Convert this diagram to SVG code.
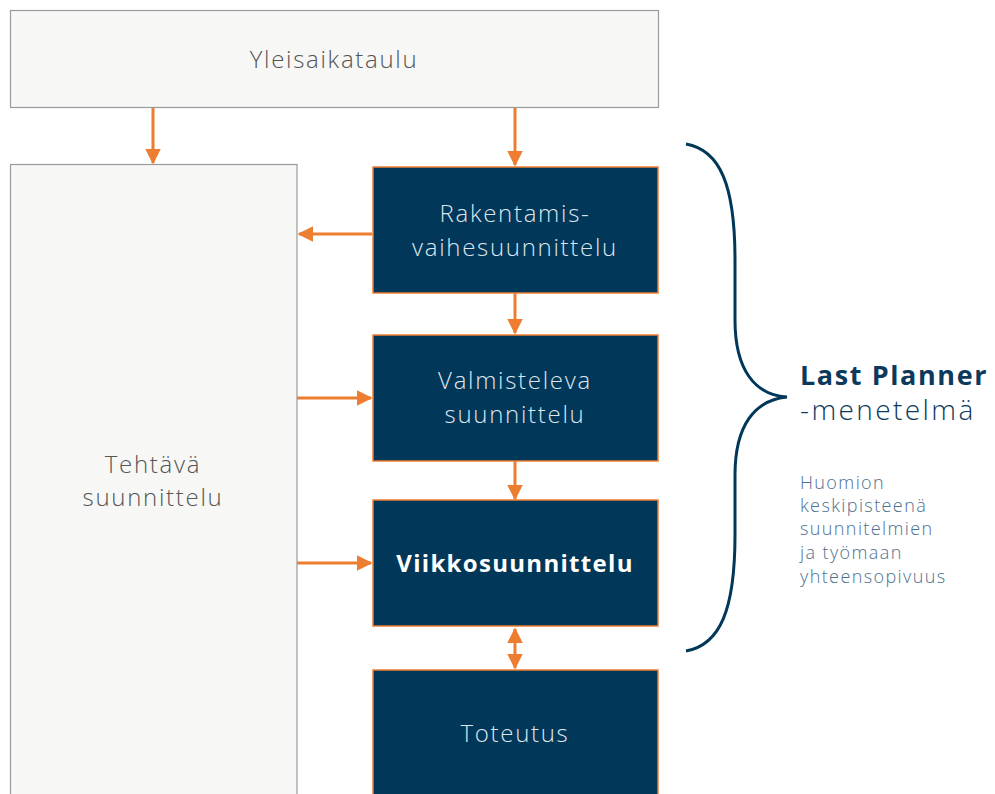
<svg xmlns="http://www.w3.org/2000/svg" width="995" height="794" viewBox="0 0 995 794">
<defs>
<style>
.light{fill:#f7f7f5;stroke:#9a9a9a;stroke-width:1.2}
.dark{fill:#013759;stroke:#ed7d31;stroke-width:1.5}
.t{font-family:"Open Sans",Lato,"Liberation Sans",sans-serif;font-weight:300;font-size:24px;letter-spacing:1.7px;text-anchor:middle}
.tg{fill:#555}
.tw{fill:#dde6ee}
.c{stroke:#ed7d31;stroke-width:3;fill:none}
</style>
<marker id="ah" viewBox="0 0 10 10" refX="9" refY="5" markerWidth="5.2" markerHeight="5.2" orient="auto-start-reverse" markerUnits="strokeWidth">
<path d="M0,0 L10,5 L0,10 z" fill="#ed7d31"/>
</marker>
</defs>
<rect width="995" height="794" fill="#fff"/>
<g id="yleisaikataulu">
<rect class="light" x="10.5" y="10.5" width="648" height="97"/>
<text class="t tg" x="334" y="68">Yleisaikataulu</text>
</g>
<g id="tehtava">
<rect class="light" x="10.5" y="164.5" width="286.5" height="640"/>
<text class="t tg" x="153" y="473">Tehtävä</text>
<text class="t tg" x="153" y="506">suunnittelu</text>
</g>
<g id="rakentamis">
<rect class="dark" x="373" y="167" width="285" height="126"/>
<text class="t tw" x="515" y="222">Rakentamis-</text>
<text class="t tw" x="515" y="256">vaihesuunnittelu</text>
</g>
<g id="valmisteleva">
<rect class="dark" x="373" y="335" width="285" height="126"/>
<text class="t tw" x="515" y="389">Valmisteleva</text>
<text class="t tw" x="515" y="423">suunnittelu</text>
</g>
<g id="viikko">
<rect class="dark" x="373" y="500" width="285" height="126"/>
<text class="t" x="515" y="572" style="font-weight:700;fill:#fff;letter-spacing:1.3px">Viikkosuunnittelu</text>
</g>
<g id="toteutus">
<rect class="dark" x="373" y="670" width="285" height="140"/>
<text class="t tw" x="515" y="742">Toteutus</text>
</g>
<g id="connectors">
<line class="c" x1="153" y1="108" x2="153" y2="163" marker-end="url(#ah)"/>
<line class="c" x1="515" y1="108" x2="515" y2="165" marker-end="url(#ah)"/>
<line class="c" x1="372" y1="234" x2="299" y2="234" marker-end="url(#ah)"/>
<line class="c" x1="515" y1="293" x2="515" y2="333" marker-end="url(#ah)"/>
<line class="c" x1="297" y1="398" x2="371" y2="398" marker-end="url(#ah)"/>
<line class="c" x1="515" y1="461" x2="515" y2="499" marker-end="url(#ah)"/>
<line class="c" x1="297" y1="563" x2="371" y2="563" marker-end="url(#ah)"/>
<line class="c" x1="515" y1="629" x2="515" y2="668" marker-start="url(#ah)" marker-end="url(#ah)"/>
</g>
<g id="brace">
<path d="M686,144 C720,150 735,185 735,260 L735,320 C735,370 755,395 787,397 C755,400 735,425 735,475 L735,535 C735,610 720,645 686,651" fill="none" stroke="#013759" stroke-width="3"/>
</g>
<g id="label" font-family="'Open Sans',Lato,'Liberation Sans',sans-serif">
<text x="800" y="385" font-size="27" font-weight="700" fill="#0d3a5c" letter-spacing="1.6">Last Planner</text>
<text x="800" y="420" font-size="28" font-weight="300" fill="#0d3a5c" letter-spacing="2.4">-menetelmä</text>
<g font-size="18" font-weight="300" fill="#4d7190" letter-spacing="1.4">
<text x="800" y="489">Huomion</text>
<text x="800" y="512">keskipisteenä</text>
<text x="800" y="535">suunnitelmien</text>
<text x="800" y="559">ja työmaan</text>
<text x="800" y="583">yhteensopivuus</text>
</g>
</g>
</svg>
